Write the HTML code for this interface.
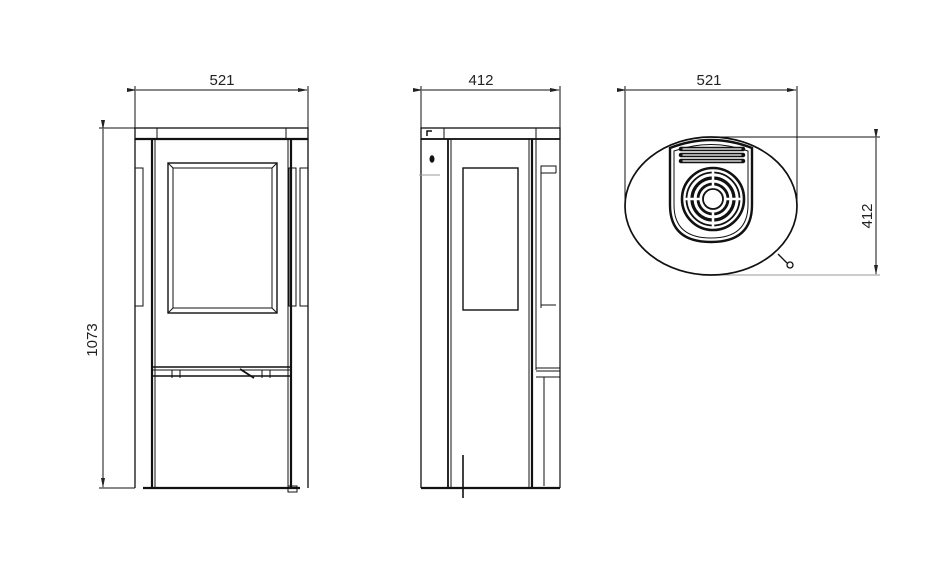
<!DOCTYPE html>
<html><head><meta charset="utf-8"><style>
html,body{margin:0;padding:0;background:#fff;}
svg{display:block;}
text{font-family:"Liberation Sans",sans-serif;font-size:15px;fill:#222;}
</style></head><body>
<svg width="950" height="578" viewBox="0 0 950 578" xmlns="http://www.w3.org/2000/svg">
<defs>
<marker id="ar" markerWidth="10" markerHeight="6" refX="9" refY="3" orient="auto" markerUnits="userSpaceOnUse"><path d="M0,1 L10,3 L0,5 Z" fill="#222"/></marker>
</defs>
<g stroke="#111" fill="none" stroke-width="1">
<line x1="135" y1="86" x2="135" y2="128"/><line x1="308" y1="86" x2="308" y2="128"/>
<line x1="136" y1="90" x2="307" y2="90" marker-end="url(#ar)" marker-start="url(#ar)"/>
<line x1="99" y1="128" x2="135" y2="128"/><line x1="99" y1="488" x2="135" y2="488"/>
<line x1="103" y1="129" x2="103" y2="487" marker-end="url(#ar)" marker-start="url(#ar)"/>
<rect x="135" y="128" width="173" height="11" stroke-width="1.3"/>
<line x1="135" y1="139" x2="308" y2="139" stroke-width="2.2"/>
<line x1="157" y1="128" x2="157" y2="139"/><line x1="286" y1="128" x2="286" y2="139"/>
<line x1="135" y1="139" x2="135" y2="488" stroke-width="1.3"/>
<line x1="308" y1="139" x2="308" y2="488" stroke-width="1.3"/>
<rect x="135" y="168" width="8" height="138"/>
<rect x="289" y="168" width="7" height="138"/>
<rect x="300" y="168" width="8" height="138"/>
<line x1="152" y1="139" x2="152" y2="488" stroke-width="2.2"/>
<line x1="155" y1="139" x2="155" y2="488"/>
<line x1="288" y1="139" x2="288" y2="488"/>
<line x1="291" y1="139" x2="291" y2="488" stroke-width="2.2"/>
<rect x="168" y="163" width="109" height="150" stroke-width="1.4"/>
<rect x="173" y="168" width="99" height="140"/>
<line x1="168" y1="163" x2="173" y2="168"/><line x1="277" y1="163" x2="272" y2="168"/>
<line x1="168" y1="313" x2="173" y2="308"/><line x1="277" y1="313" x2="272" y2="308"/>
<line x1="152" y1="367" x2="291" y2="367" stroke-width="1.4"/>
<line x1="152" y1="370" x2="291" y2="370"/>
<line x1="152" y1="376" x2="291" y2="376" stroke-width="1.4"/>
<line x1="240" y1="369" x2="254" y2="378" stroke-width="1.8"/>
<line x1="172" y1="370" x2="172" y2="378"/><line x1="180" y1="370" x2="180" y2="378"/>
<line x1="262" y1="370" x2="262" y2="378"/><line x1="270" y1="370" x2="270" y2="378"/>
<line x1="143" y1="488" x2="300" y2="488" stroke-width="2.2"/>
<rect x="288" y="486" width="9" height="6"/>
<line x1="421" y1="86" x2="421" y2="128"/><line x1="560" y1="86" x2="560" y2="128"/>
<line x1="422" y1="90" x2="559" y2="90" marker-end="url(#ar)" marker-start="url(#ar)"/>
<rect x="421" y="128" width="139" height="11" stroke-width="1.3"/>
<line x1="421" y1="139" x2="560" y2="139" stroke-width="1.8"/>
<line x1="444" y1="128" x2="444" y2="139"/><line x1="536" y1="128" x2="536" y2="139"/>
<path d="M427 136 L427 131 L432 131" stroke-width="1.5"/>
<line x1="421" y1="139" x2="421" y2="488" stroke-width="1.3"/>
<line x1="560" y1="139" x2="560" y2="488" stroke-width="1.2"/>
<ellipse cx="432" cy="159" rx="2" ry="3.2" fill="#111"/>
<line x1="419" y1="175" x2="440" y2="175" stroke="#999"/>
<line x1="448" y1="139" x2="448" y2="488" stroke-width="1.8"/>
<line x1="451" y1="139" x2="451" y2="488"/>
<line x1="529" y1="139" x2="529" y2="488"/>
<line x1="532" y1="139" x2="532" y2="488" stroke-width="2.2"/>
<rect x="463" y="168" width="55" height="142" stroke-width="1.4"/>
<line x1="536" y1="139" x2="536" y2="370"/>
<path d="M541 308 L541 166 L556 166 L556 173 M541 173 L556 173 M541 305 L556 305"/>
<line x1="536" y1="368" x2="560" y2="368"/><line x1="536" y1="371" x2="560" y2="371"/>
<line x1="536" y1="377" x2="560" y2="377"/>
<line x1="544" y1="377" x2="544" y2="486"/>
<line x1="421" y1="488" x2="560" y2="488" stroke-width="2.2"/>
<line x1="463" y1="455" x2="463" y2="498" stroke-width="1.6"/>
<line x1="625" y1="86" x2="625" y2="206"/><line x1="797" y1="86" x2="797" y2="206"/>
<line x1="626" y1="90" x2="796" y2="90" marker-end="url(#ar)" marker-start="url(#ar)"/>
<line x1="711" y1="137" x2="880" y2="137"/><line x1="711" y1="275" x2="880" y2="275" stroke="#999"/>
<line x1="876" y1="138" x2="876" y2="274" marker-end="url(#ar)" marker-start="url(#ar)"/>
<ellipse cx="711" cy="206" rx="86" ry="69" stroke-width="1.7"/>
<line x1="778" y1="254" x2="787" y2="263" stroke-width="1.3"/>
<circle cx="790" cy="265" r="3" stroke-width="1.3"/>
<path d="M670 148 Q711 132 752 148 L752 205 Q752 242 711 242 Q670 242 670 205 Z" stroke-width="2.4"/>
<path d="M674 151 Q711 138 748 151 L748 205 Q748 238 711 238 Q674 238 674 205 Z" stroke-width="1"/>
<g stroke-width="4.5" stroke-linecap="round">
<line x1="681" y1="149" x2="743" y2="149"/><line x1="681" y1="155" x2="743" y2="155"/><line x1="681" y1="161" x2="743" y2="161"/>
</g>
<g stroke="#fff" stroke-width="1.2" stroke-linecap="round">
<line x1="683" y1="149" x2="741" y2="149"/><line x1="683" y1="155" x2="741" y2="155"/><line x1="683" y1="161" x2="741" y2="161"/>
</g>
<circle cx="713" cy="199" r="31" stroke-width="2.6"/>
<circle cx="713" cy="199" r="26.5" stroke-width="1.8"/>
<circle cx="713" cy="199" r="21" stroke-width="3.2"/>
<circle cx="713" cy="199" r="15" stroke-width="2.8"/>
<circle cx="713" cy="199" r="10" stroke-width="1.8"/>
<g stroke="#fff" stroke-width="2.5">
<line x1="713" y1="170" x2="713" y2="186"/><line x1="713" y1="212" x2="713" y2="228"/>
<line x1="684" y1="199" x2="700" y2="199"/><line x1="726" y1="199" x2="742" y2="199"/>
</g>
</g>
<text x="222" y="85" text-anchor="middle">521</text>
<text x="481" y="85" text-anchor="middle">412</text>
<text x="709" y="85" text-anchor="middle">521</text>
<text transform="translate(97,340) rotate(-90)" text-anchor="middle">1073</text>
<text transform="translate(872,216) rotate(-90)" text-anchor="middle">412</text>
</svg>
</body></html>
